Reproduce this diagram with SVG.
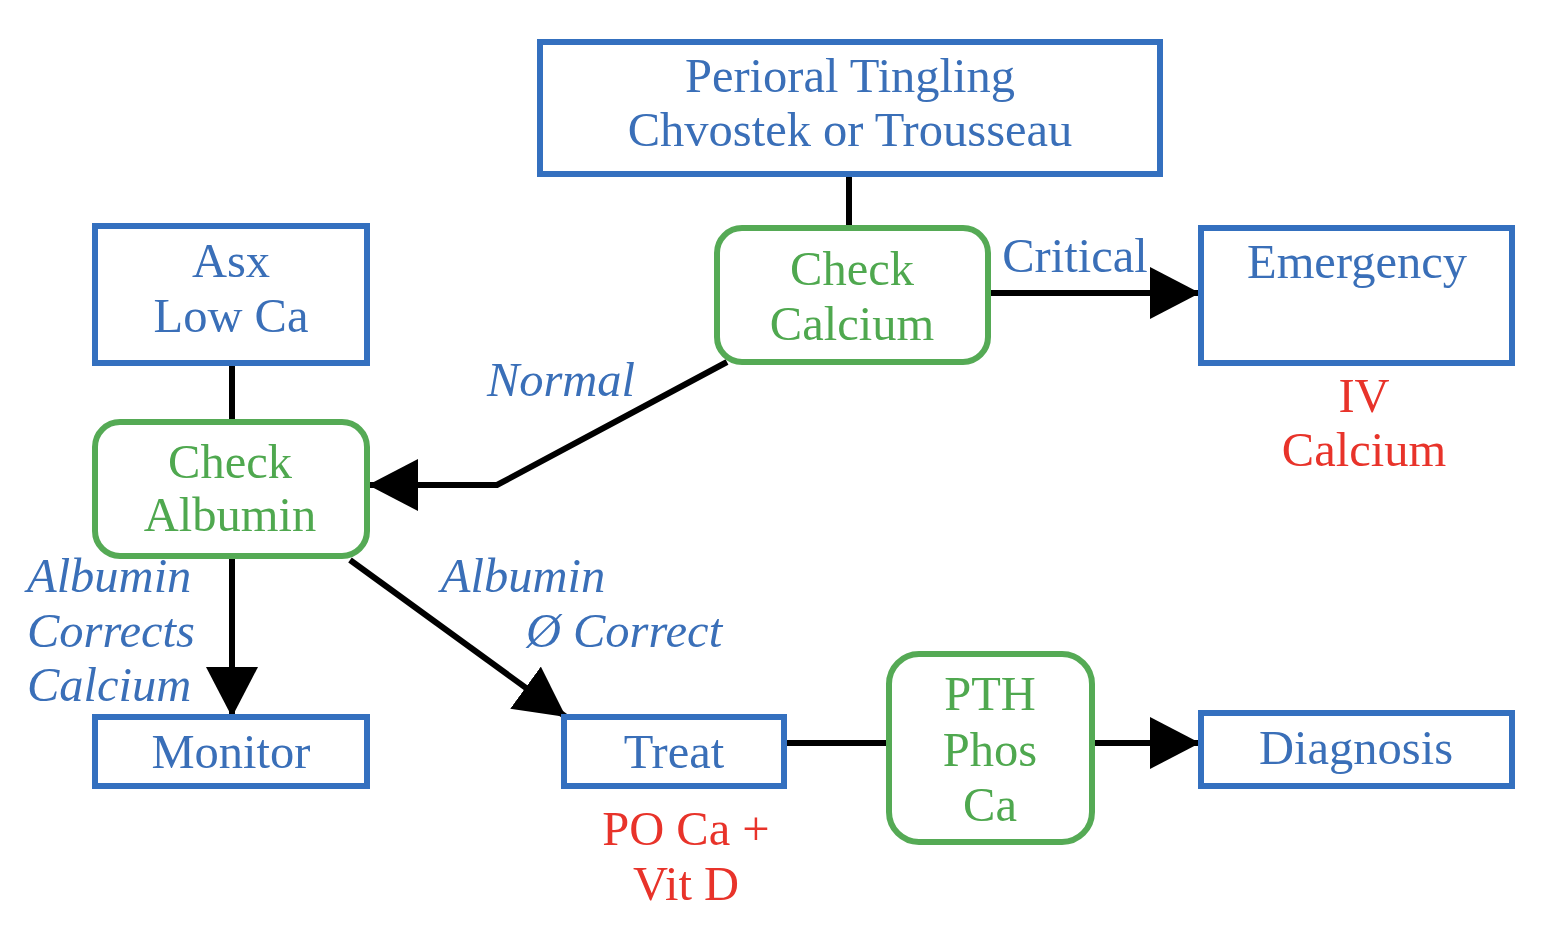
<svg xmlns="http://www.w3.org/2000/svg" width="1544" height="936" viewBox="0 0 1544 936">
<style>
.box{fill:#fff;stroke:#3470BF;stroke-width:6}
.dec{fill:#fff;stroke:#55AA55;stroke-width:6}
.t{font-family:"Liberation Serif","Times New Roman",serif;font-size:48.5px;text-anchor:middle}
.b{fill:#3A6FB8}
.g{fill:#4FA84F}
.r{fill:#E8332A}
.i{font-style:italic}
.l{text-anchor:start}
.c{fill:none;stroke:#000;stroke-width:6}
</style>
<defs>
<marker id="ah" markerUnits="userSpaceOnUse" markerWidth="50" markerHeight="52" refX="50" refY="26" orient="auto">
<path d="M0,0 L50,26 L0,52 Z" fill="#000"/>
</marker>
</defs>
<rect width="1544" height="936" fill="#fff"/>
<g id="connectors">
<line class="c" x1="849" y1="174" x2="849" y2="228"/>
<line class="c" x1="988" y1="293" x2="1200" y2="293" marker-end="url(#ah)"/>
<line class="c" x1="232" y1="363" x2="232" y2="422"/>
<polyline class="c" points="727,362 497,485 368,485" marker-end="url(#ah)"/>
<line class="c" x1="232" y1="556" x2="232" y2="717" marker-end="url(#ah)"/>
<line class="c" x1="350" y1="560" x2="566" y2="717" marker-end="url(#ah)"/>
<line class="c" x1="784" y1="743" x2="889" y2="743"/>
<line class="c" x1="1092" y1="743" x2="1200" y2="743" marker-end="url(#ah)"/>
</g>
<g id="labels">
<text class="t b" x="1075" y="272">Critical</text>
<text class="t b i" x="561" y="396">Normal</text>
<text class="t b i l" x="27" y="592">Albumin</text>
<text class="t b i l" x="27" y="647">Corrects</text>
<text class="t b i l" x="27" y="701">Calcium</text>
<text class="t b i" x="523" y="592">Albumin</text>
<text class="t b i" x="624" y="647">Ø Correct</text>
<text class="t r" x="1364" y="412">IV</text>
<text class="t r" x="1364" y="466">Calcium</text>
<text class="t r" x="686" y="845">PO Ca +</text>
<text class="t r" x="686" y="900">Vit D</text>
</g>
<g id="perioral">
<rect class="box" x="540" y="42" width="620" height="132"/>
<text class="t b" x="850" y="92">Perioral Tingling</text>
<text class="t b" x="850" y="146">Chvostek or Trousseau</text>
</g>
<g id="check-calcium">
<rect class="dec" x="717" y="228" width="271" height="134" rx="25"/>
<text class="t g" x="852" y="285">Check</text>
<text class="t g" x="852" y="340">Calcium</text>
</g>
<g id="emergency">
<rect class="box" x="1201" y="228" width="311" height="135"/>
<text class="t b" x="1357" y="278">Emergency</text>
</g>
<g id="asx">
<rect class="box" x="95" y="226" width="272" height="137"/>
<text class="t b" x="231" y="277">Asx</text>
<text class="t b" x="231" y="332">Low Ca</text>
</g>
<g id="check-albumin">
<rect class="dec" x="95" y="422" width="272" height="134" rx="25"/>
<text class="t g" x="230" y="478">Check</text>
<text class="t g" x="230" y="531">Albumin</text>
</g>
<g id="monitor">
<rect class="box" x="95" y="717" width="272" height="69"/>
<text class="t b" x="231" y="768">Monitor</text>
</g>
<g id="treat">
<rect class="box" x="564" y="717" width="220" height="69"/>
<text class="t b" x="674" y="768">Treat</text>
</g>
<g id="pth">
<rect class="dec" x="889" y="654" width="203" height="188" rx="30"/>
<text class="t g" x="990" y="710">PTH</text>
<text class="t g" x="990" y="766">Phos</text>
<text class="t g" x="990" y="821">Ca</text>
</g>
<g id="diagnosis">
<rect class="box" x="1201" y="713" width="311" height="73"/>
<text class="t b" x="1356" y="764">Diagnosis</text>
</g>
</svg>
